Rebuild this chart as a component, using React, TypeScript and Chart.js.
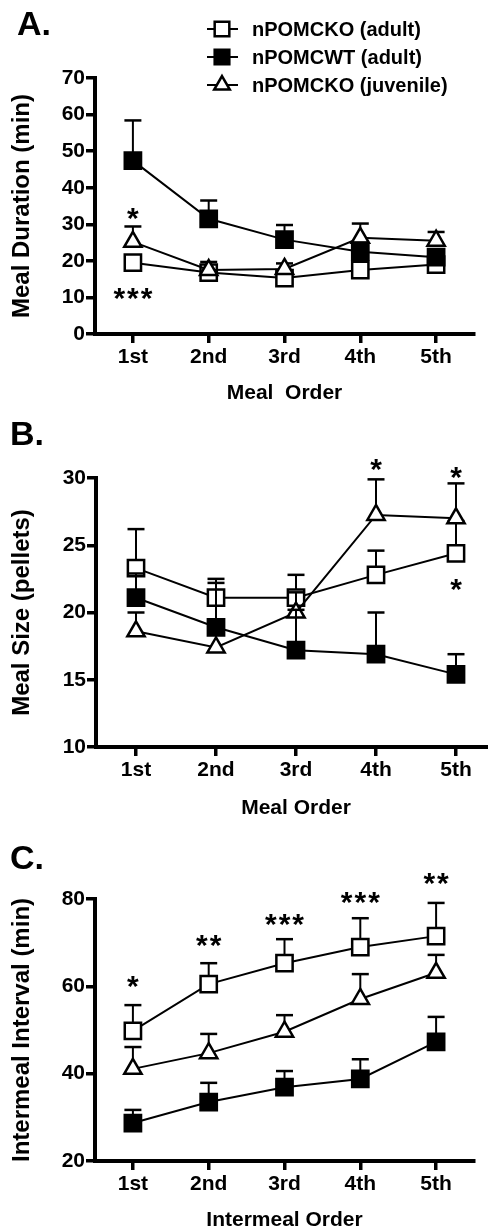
import React, { useEffect, useRef } from 'react';
import { Chart, registerables } from 'chart.js';

Chart.register(...registerables);

const FONT = "'Liberation Sans', Arial, Helvetica, sans-serif";

// ---------- data ----------
const mealOrder = ['1st', '2nd', '3rd', '4th', '5th'];
const intermealOrder = ['1st', '2nd', '3rd', '4th', '5th'];
const seriesNames = ['nPOMCKO (adult)', 'nPOMCWT (adult)', 'nPOMCKO (juvenile)'];

// Panel A: Meal Duration (min)
const durationKOAdult = [19.5, 16.8, 15.3, 17.5, 19.0];
const durationKOAdultSEM = [1.2, 1.0, 1.0, 1.2, 1.2];
const durationWTAdult = [47.4, 31.5, 25.8, 22.5, 21.0];
const durationWTAdultSEM = [11.0, 5.0, 4.0, 2.5, 2.0];
const durationKOJuvenile = [25.2, 17.5, 17.8, 26.3, 25.5];
const durationKOJuvenileSEM = [4.2, 2.2, 1.5, 3.9, 2.4];
const durationTicks = { min: 0, max: 70, step: 10 };
const durationNotes = [
  { index: 0, value: 33.9, text: '*' },
  { index: 0, value: 12.0, text: '***' },
];

// Panel B: Meal Size (pellets)
const sizeKOAdult = [23.3, 21.1, 21.1, 22.8, 24.4];
const sizeKOAdultSEM = [2.9, 1.4, 1.7, 1.8, 2.4];
const sizeWTAdult = [21.1, 18.9, 17.2, 16.9, 15.4];
const sizeWTAdultSEM = [1.8, 3.3, 3.0, 3.1, 1.5];
const sizeKOJuvenile = [18.6, 17.4, 20.0, 27.25, 27.0];
const sizeKOJuvenileSEM = [1.4, 1.0, 1.5, 2.65, 2.6];
const sizeTicks = { min: 10, max: 30, step: 5 };
const sizeNotes = [
  { index: 3, value: 31.2, text: '*' },
  { index: 4, value: 30.6, text: '*' },
  { index: 4, value: 22.3, text: '*' },
];

// Panel C: Intermeal Interval (min)
const intervalKOAdult = [49.8, 60.5, 65.3, 69.0, 71.5];
const intervalKOAdultSEM = [5.9, 4.8, 5.5, 6.6, 7.6];
const intervalWTAdult = [28.7, 33.5, 36.9, 38.8, 47.3];
const intervalWTAdultSEM = [3.0, 4.4, 3.7, 4.5, 5.7];
const intervalKOJuvenile = [41.1, 44.7, 49.6, 57.1, 63.1];
const intervalKOJuvenileSEM = [5.0, 4.4, 3.8, 5.7, 4.1];
const intervalTicks = { min: 20, max: 80, step: 20 };
const intervalNotes = [
  { index: 0, value: 61.9, text: '*' },
  { index: 1, value: 71.1, text: '**' },
  { index: 2, value: 75.9, text: '***' },
  { index: 3, value: 81.1, text: '***' },
  { index: 4, value: 85.3, text: '**' },
];

// ---------- styling ----------
const markerStyles = [
  { pointStyle: 'rect', fill: '#ffffff', radius: 11.5, order: 3 },
  { pointStyle: 'rect', fill: '#000000', radius: 11.5, order: 1 },
  { pointStyle: 'triangle', fill: '#ffffff', radius: 10, order: 2 },
];

function drawMarker(ctx: CanvasRenderingContext2D, style: string, x: number, y: number, r: number, fill: string) {
  ctx.save();
  ctx.beginPath();
  if (style === 'rect') {
    const s = Math.SQRT1_2 * r;
    ctx.rect(x - s, y - s, 2 * s, 2 * s);
  } else {
    for (let k = 0; k < 3; k++) {
      const a = -Math.PI / 2 + (k * 2 * Math.PI) / 3;
      const px = x + Math.cos(a) * r;
      const py = y + Math.sin(a) * r;
      if (k === 0) ctx.moveTo(px, py);
      else ctx.lineTo(px, py);
    }
    ctx.closePath();
  }
  ctx.fillStyle = fill;
  ctx.fill();
  ctx.lineWidth = 2.5;
  ctx.strokeStyle = '#000';
  ctx.stroke();
  ctx.restore();
}

type Note = { index: number; value: number; text: string };
type Panel = {
  letter: string;
  letterX: number;
  letterY: number;
  labels: string[];
  series: number[][];
  sems: number[][];
  ticks: { min: number; max: number; step: number };
  yTitle: string;
  xTitle: string;
  notes: Note[];
  legend: boolean;
  width: number;
  height: number;
  top: number;
  padTop: number;
  padRight: number;
  yWidth: number;
  xHeight: number;
};

function makeDecor(p: Panel) {
  return {
    id: 'decor' + p.letter,
    beforeDatasetDraw(chart: any, args: any) {
      const di = args.index;
      const sem = p.sems[di];
      const data = p.series[di];
      if (!sem) return;
      const { ctx } = chart;
      const xs = chart.scales.x;
      const ys = chart.scales.y;
      ctx.save();
      ctx.strokeStyle = '#000';
      ctx.lineWidth = 2;
      data.forEach((v, i) => {
        const px = xs.getPixelForValue(i);
        const py = ys.getPixelForValue(v);
        const pt = ys.getPixelForValue(v + sem[i]);
        ctx.beginPath();
        ctx.moveTo(px, py);
        ctx.lineTo(px, pt);
        ctx.stroke();
        ctx.beginPath();
        ctx.lineWidth = 2.5;
        ctx.moveTo(px - 8.5, pt);
        ctx.lineTo(px + 8.5, pt);
        ctx.stroke();
        ctx.lineWidth = 2;
      });
      ctx.restore();
    },
    afterDraw(chart: any) {
      const { ctx } = chart;
      const xs = chart.scales.x;
      const ys = chart.scales.y;
      ctx.save();
      // panel letter
      ctx.fillStyle = '#000';
      ctx.font = `bold 34px ${FONT}`;
      ctx.textAlign = 'left';
      ctx.textBaseline = 'alphabetic';
      ctx.fillText(p.letter, p.letterX, p.letterY + 12);
      // significance marks
      ctx.font = `bold 30px ${FONT}`;
      ctx.textAlign = 'center';
      try { (ctx as any).letterSpacing = '2px'; } catch (e) {}
      p.notes.forEach((n) => {
        const px = xs.getPixelForValue(n.index);
        const py = ys.getPixelForValue(n.value);
        ctx.fillText(n.text, px + 1, py + 17.5);
      });
      try { (ctx as any).letterSpacing = '0px'; } catch (e) {}
      // legend
      if (p.legend) {
        const rows = [29, 57, 85];
        ctx.font = `bold 20px ${FONT}`;
        ctx.textAlign = 'left';
        ctx.textBaseline = 'middle';
        seriesNames.forEach((name, i) => {
          const y = rows[i];
          ctx.beginPath();
          ctx.lineWidth = 2;
          ctx.strokeStyle = '#000';
          ctx.moveTo(207, y);
          ctx.lineTo(238, y);
          ctx.stroke();
          const st = markerStyles[i];
          drawMarker(ctx, st.pointStyle, 222, y, st.radius * 0.9, st.fill);
          ctx.fillStyle = '#000';
          ctx.fillText(name, 252, y + 1);
        });
      }
      ctx.restore();
    },
  };
}

function buildConfig(p: Panel): any {
  const tickFont = { family: FONT, size: 21, weight: 'bold' as const };
  return {
    type: 'line',
    data: {
      labels: p.labels,
      datasets: p.series.map((d, i) => ({
        label: seriesNames[i],
        data: d,
        order: markerStyles[i].order,
        borderColor: '#000',
        borderWidth: 2,
        tension: 0,
        fill: false,
        clip: false,
        pointStyle: markerStyles[i].pointStyle,
        pointRadius: markerStyles[i].radius,
        pointBackgroundColor: markerStyles[i].fill,
        pointBorderColor: '#000',
        pointBorderWidth: 2.5,
      })),
    },
    options: {
      animation: false,
      responsive: false,
      devicePixelRatio: 1,
      events: [],
      layout: { padding: { top: p.padTop, right: p.padRight, bottom: 0, left: 0 } },
      plugins: { legend: { display: false }, tooltip: { enabled: false }, title: { display: false } },
      scales: {
        x: {
          type: 'category',
          offset: true,
          grid: { display: true, drawOnChartArea: false, drawTicks: true, tickLength: 9, tickWidth: 3.5, tickColor: '#000', color: '#000', lineWidth: 3.5 },
          border: { display: true, width: 4, color: '#000' },
          ticks: { color: '#000', font: tickFont, padding: 2, maxRotation: 0, autoSkip: false },
          title: { display: true, text: p.xTitle, color: '#000', font: tickFont, padding: { top: 0, bottom: 0 } },
          afterFit: (s: any) => { s.height = p.xHeight; },
        },
        y: {
          type: 'linear',
          min: p.ticks.min,
          max: p.ticks.max,
          grid: { display: true, drawOnChartArea: false, drawTicks: true, tickLength: 9, tickWidth: 3.5, tickColor: '#000', color: '#000', lineWidth: 3.5 },
          border: { display: true, width: 4, color: '#000' },
          ticks: { color: '#000', font: tickFont, padding: 1, stepSize: p.ticks.step },
          title: { display: true, text: p.yTitle, color: '#000', font: { family: FONT, size: 24, weight: 'bold' }, padding: { top: 8, bottom: 0 } },
          afterFit: (s: any) => { s.width = p.yWidth; },
        },
      },
    },
    plugins: [makeDecor(p)],
  };
}

const panels: Panel[] = [
  {
    letter: 'A.', letterX: 17, letterY: 23,
    labels: mealOrder,
    series: [durationKOAdult, durationWTAdult, durationKOJuvenile],
    sems: [durationKOAdultSEM, durationWTAdultSEM, durationKOJuvenileSEM],
    ticks: durationTicks,
    yTitle: 'Meal Duration (min)', xTitle: 'Meal  Order',
    notes: durationNotes, legend: true,
    width: 488, height: 406, top: 0, padTop: 78, padRight: 11, yWidth: 95, xHeight: 72,
  },
  {
    letter: 'B.', letterX: 10, letterY: 27,
    labels: mealOrder,
    series: [sizeKOAdult, sizeWTAdult, sizeKOJuvenile],
    sems: [sizeKOAdultSEM, sizeWTAdultSEM, sizeKOJuvenileSEM],
    ticks: sizeTicks,
    yTitle: 'Meal Size (pellets)', xTitle: 'Meal Order',
    notes: sizeNotes, legend: false,
    width: 510, height: 415, top: 406, padTop: 72, padRight: 10, yWidth: 96, xHeight: 74,
  },
  {
    letter: 'C.', letterX: 10, letterY: 36,
    labels: intermealOrder,
    series: [intervalKOAdult, intervalWTAdult, intervalKOJuvenile],
    sems: [intervalKOAdultSEM, intervalWTAdultSEM, intervalKOJuvenileSEM],
    ticks: intervalTicks,
    yTitle: 'Intermeal Interval (min)', xTitle: 'Intermeal Order',
    notes: intervalNotes, legend: false,
    width: 488, height: 412, top: 821, padTop: 78, padRight: 4, yWidth: 95, xHeight: 72,
  },
];

function PanelChart({ p }: { p: Panel }) {
  const ref = useRef<HTMLCanvasElement | null>(null);
  useEffect(() => {
    if (!ref.current) return;
    const chart = new Chart(ref.current, buildConfig(p));
    return () => chart.destroy();
  }, [p]);
  return (
    <canvas
      ref={ref}
      width={p.width}
      height={p.height}
      style={{ position: 'absolute', left: 0, top: p.top, width: p.width, height: p.height }}
    />
  );
}

export default function App() {
  return (
    <div style={{ position: 'absolute', left: 0, top: 0, width: 488, height: 1231, overflow: 'hidden', background: '#fff' }}>
      {panels.map((p) => (
        <PanelChart key={p.letter} p={p} />
      ))}
    </div>
  );
}
